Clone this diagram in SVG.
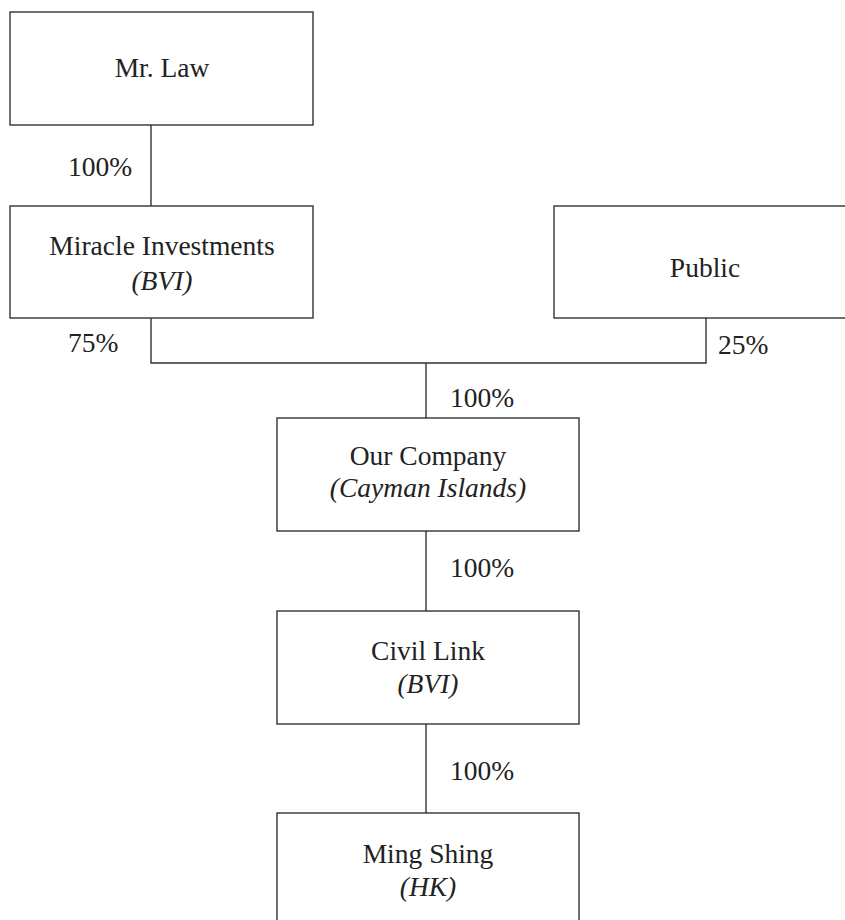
<svg xmlns="http://www.w3.org/2000/svg" width="845" height="920" viewBox="0 0 845 920">
<style>
.box{fill:#fff;stroke:#333;stroke-width:1.4}
.con{fill:none;stroke:#333;stroke-width:1.4}
text{font-family:"Liberation Serif","Times New Roman",serif;font-size:27.5px;fill:#222}
.c{text-anchor:middle}
.i{font-style:italic}
</style>
<rect width="845" height="920" fill="#fff"/>
<g id="connectors">
<line class="con" x1="151" y1="125" x2="151" y2="206"/>
<polyline class="con" points="151,318 151,363 706,363 706,318"/>
<line class="con" x1="426" y1="363" x2="426" y2="418"/>
<line class="con" x1="426" y1="531" x2="426" y2="611"/>
<line class="con" x1="426" y1="724" x2="426" y2="813"/>
<text x="68" y="176">100%</text>
<text x="68" y="352">75%</text>
<text x="718" y="354">25%</text>
<text x="450" y="407">100%</text>
<text x="450" y="577">100%</text>
<text x="450" y="780">100%</text>
</g>
<g id="mr-law">
<rect class="box" x="10" y="12" width="303" height="113"/>
<text class="c" x="162" y="77">Mr. Law</text>
</g>
<g id="miracle">
<rect class="box" x="10" y="206" width="303" height="112"/>
<text class="c" x="162" y="255">Miracle Investments</text>
<text class="c i" x="162" y="290">(BVI)</text>
</g>
<g id="public">
<rect class="box" x="554" y="206" width="303" height="112"/>
<text class="c" x="705" y="277">Public</text>
</g>
<g id="our-company">
<rect class="box" x="277" y="418" width="302" height="113"/>
<text class="c" x="428" y="465">Our Company</text>
<text class="c i" x="428" y="497">(Cayman Islands)</text>
</g>
<g id="civil-link">
<rect class="box" x="277" y="611" width="302" height="113"/>
<text class="c" x="428" y="660">Civil Link</text>
<text class="c i" x="428" y="693">(BVI)</text>
</g>
<g id="ming-shing">
<rect class="box" x="277" y="813" width="302" height="120"/>
<text class="c" x="428" y="863">Ming Shing</text>
<text class="c i" x="428" y="896">(HK)</text>
</g>
</svg>
